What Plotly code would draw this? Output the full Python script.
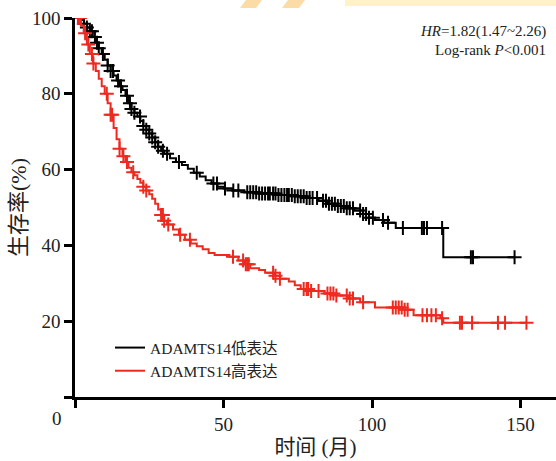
import numpy as np
import plotly.graph_objects as go

# ---------------- data ----------------
# Low expression group (black): step times (months) and survival (%)
low_t = [0, 2, 3, 4, 5, 6, 7, 8, 9, 10, 11, 12, 13, 14, 15, 16, 17, 18, 19, 20, 21, 22, 23, 24, 25,
         26, 27, 28, 29, 30, 32, 34, 36, 38, 40, 42, 44, 46, 48, 50, 53, 57, 62, 68, 74, 78, 82, 85,
         88, 91, 94, 97, 99, 101, 104, 108, 124]
low_s = [100, 99.5, 98.5, 97.5, 96.5, 95, 93.5, 92, 90.5, 89, 87.5, 86, 84.8, 83.5, 82, 81, 79.5,
         77.5, 76, 75, 74, 72.8, 71.5, 70.5, 69.5, 68.5, 67.2, 66, 65, 64.2, 63, 62, 61.2, 60.2, 59.2,
         58.2, 57.2, 56.3, 55.5, 55, 54.5, 54, 53.7, 53.3, 53, 52.5, 51.8, 51, 50.4, 49.8, 49.2, 48.3,
         47.3, 46.7, 46, 44.6, 36.9]
low_end = 148
low_censor = [1, 3, 4, 5, 5.7, 6.7, 7.4, 8, 9.4, 11, 12, 12.8, 14.5, 15.5, 17.5, 18.5, 19, 20, 21.9,
              23, 24, 25, 26, 27, 28, 29.6, 31, 35, 41, 46.6, 47.8, 50.5, 53.3, 55, 58, 59, 60, 61,
              62, 63, 64, 65, 65.6, 66.7, 67.5, 68.5, 69.5, 70.5, 71.4, 72, 73, 74, 75, 76, 77, 78,
              79, 80, 81.5, 83.5, 84.5, 85.5, 86.5, 87.5, 88.5, 89.5, 90.5, 91.5, 92.5, 93.6, 96, 97,
              98, 99, 100.3, 103.7, 105.4, 110.4, 116.8, 117.5, 118.5, 123.6, 133.3, 134, 148]

# High expression group (red)
high_t = [0, 2, 3, 4, 5, 6, 7, 8, 9, 10, 11, 12, 13, 14, 15, 16, 17, 18, 19, 20, 21, 22, 23, 24, 25,
          26, 27, 28, 29, 30, 31, 33, 35, 37, 39, 41, 43, 45, 47, 52, 55, 57, 59, 62, 64, 67, 69, 72,
          74, 76, 79, 84, 88, 92, 96, 101, 111, 114, 123, 124]
high_s = [100, 98, 96, 93, 90.5, 88, 86, 84, 82, 80, 77.5, 74.5, 71, 68, 65.5, 63.5, 62, 60.5, 59.3,
          58.5, 57.5, 56.5, 55.5, 54.5, 53.5, 52.3, 51, 49.5, 48, 46.5, 45.5, 44.2, 42.8, 41.5, 40.5,
          39.8, 39, 38, 37.5, 37, 36, 35, 34, 33.5, 32.8, 32, 31.2, 30.5, 29.5, 28.5, 28, 27.3, 26.8,
          26, 25, 23.6, 23, 21.6, 20.8, 19.6]
high_end = 152
high_censor = [1, 1.7, 3.4, 4.5, 5.7, 6.2, 10.7, 12, 12.5, 15, 16.3, 17.5, 19.6, 23, 24, 29, 29.6,
               30, 31.4, 35.4, 38.7, 53.2, 56.6, 57.5, 58, 58.5, 66.7, 67.5, 69, 77, 78, 78.5, 79.5,
               82, 85, 86, 87, 88, 91.5, 92.5, 93.6, 97, 107, 108, 109, 110, 111, 112, 117, 118.5,
               120, 121.5, 123.6, 129.6, 130.3, 133.7, 142.4, 144.8, 152]

x_ticks = [0, 50, 100, 150]
x_ticktext = ["", "50", "100", "150"]
y_ticks = [0, 20, 40, 60, 80, 100]
y_ticktext = ["", "20", "40", "60", "80", "100"]

labels = ["ADAMTS14低表达", "ADAMTS14高表达"]
colors = ["#000000", "#ee2a20"]

FONT = "Liberation Serif, 'Noto Sans CJK SC', serif"

# ---------------- layout geometry (pixels) ----------------
W, H = 556, 461
L, R, T, B = 75, 0, 18, 64
PW, PH = W - L - R, H - T - B


def pxx(px):
    return (px - L) / PW


def pxy(py):
    return (H - B - py) / PH


def step_value(ts, ss, t):
    i = np.searchsorted(np.array(ts), t, side="right") - 1
    return np.array(ss)[i]


fig = go.Figure()

groups = [(low_t, low_s, low_end, low_censor), (high_t, high_s, high_end, high_censor)]
for (ts, ss, tend, cens), lab, col in zip(groups, labels, colors):
    xs = list(ts) + [tend]
    ys = list(ss) + [ss[-1]]
    fig.add_trace(go.Scatter(x=xs, y=ys, mode="lines", line=dict(color=col, width=2, shape="hv"),
                             name=lab, showlegend=True))
    cy = [float(step_value(ts, ss, c)) for c in cens]
    fig.add_trace(go.Scatter(x=cens, y=cy, mode="markers", showlegend=False,
                             marker=dict(symbol="cross-thin", size=10, color=col,
                                         line=dict(color=col, width=2))))

fig.update_layout(
    width=W, height=H,
    margin=dict(l=L, r=R, t=T, b=B),
    paper_bgcolor="white", plot_bgcolor="white",
    font=dict(family=FONT, color="#222222", size=18),
    showlegend=True,
    legend=dict(x=pxx(110), y=pxy(331), xanchor="left", yanchor="top",
                bgcolor="rgba(0,0,0,0)", font=dict(size=15.5, family=FONT, color="#222222"),
                tracegroupgap=0, itemwidth=30),
    xaxis=dict(range=[0, PW / 2.97], showgrid=False, zeroline=False, showline=True,
               linecolor="black", linewidth=2.5, ticks="outside", ticklen=8, tickwidth=2.5,
               tickcolor="black", tickvals=x_ticks, ticktext=x_ticktext,
               tickfont=dict(size=19, family=FONT, color="#222222"),
               title=dict(text="时间 (月)", font=dict(size=21, family=FONT, color="#222222"),
                          standoff=6)),
    yaxis=dict(range=[0, 100], showgrid=False, zeroline=False, showline=True,
               linecolor="black", linewidth=2.5, ticks="outside", ticklen=8, tickwidth=2.5,
               tickcolor="black", tickvals=y_ticks, ticktext=y_ticktext,
               tickfont=dict(size=19, family=FONT, color="#222222"),
               title=dict(text="生存率(%)", font=dict(size=22, family=FONT, color="#222222"),
                          standoff=0)),
)

fig.add_annotation(x=pxx(57), y=pxy(418), xref="paper", yref="paper", text="0", showarrow=False,
                   font=dict(size=19, family=FONT, color="#222222"), xanchor="center",
                   yanchor="middle")
fig.add_annotation(x=pxx(548), y=pxy(32), xref="paper", yref="paper",
                   text="<i>HR</i>=1.82(1.47~2.26)", showarrow=False,
                   font=dict(size=15, family=FONT, color="#222222"), xanchor="right",
                   yanchor="middle")
fig.add_annotation(x=pxx(548), y=pxy(50), xref="paper", yref="paper",
                   text="Log-rank <i>P</i><0.001", showarrow=False,
                   font=dict(size=15, family=FONT, color="#222222"), xanchor="right",
                   yanchor="middle")

# faint watermark remnants at the top edge
fig.add_shape(type="path", xref="paper", yref="paper",
              path=f"M {pxx(240)},{pxy(8)} L {pxx(246)},{pxy(0)} L {pxx(262)},{pxy(0)} "
                   f"L {pxx(256)},{pxy(8)} Z",
              fillcolor="#fbdca6", line=dict(width=0), layer="below")
fig.add_shape(type="path", xref="paper", yref="paper",
              path=f"M {pxx(282)},{pxy(8)} L {pxx(288)},{pxy(0)} L {pxx(305)},{pxy(0)} "
                   f"L {pxx(299)},{pxy(8)} Z",
              fillcolor="#fbdca6", line=dict(width=0), layer="below")
fig.add_shape(type="rect", xref="paper", yref="paper", x0=pxx(345), x1=pxx(556),
              y0=pxy(6), y1=pxy(0), fillcolor="#fef2c6", line=dict(width=0), layer="below")

fig.write_html("out.html")
